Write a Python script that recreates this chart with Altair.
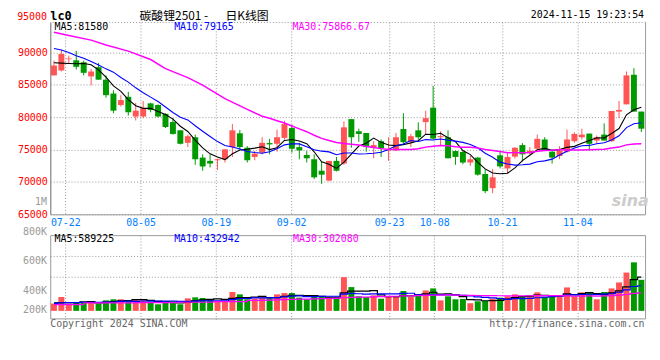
import json
import altair as alt
import pandas as pd

# ---------------- data ----------------
dates = ["07-22", "08-05", "08-19", "09-02", "09-23", "10-08", "10-21", "11-04"]
date_index = [2, 12, 22, 32, 45, 51, 60, 70]

opens = [86450, 87210, 88950, 88780, 88480, 86300, 87720, 85790, 83650, 81880,
         83150, 80100, 80100, 82130, 81880, 80510, 79240, 77970, 76040, 76900,
         73760, 73250, 73350, 73500, 75380, 77510, 75280, 73860, 74520, 76000,
         75890, 76800, 78320, 75380, 74160, 73500, 71730, 70200, 73250, 72840,
         79700, 77820, 77560, 75380, 76290, 74820, 74870, 78170, 76190, 77970,
         79240, 81470, 76900, 76900, 74770, 74620, 73000, 73760, 71220, 69040,
         74110, 72080, 73910, 75690, 74420, 75130, 76550, 74670, 74010, 74670,
         76290, 76900, 77460, 76390, 77310, 76290, 80860, 81980, 86550, 80860]
highs = [88730, 90400, 89500, 90250, 88730, 87460, 88380, 86450, 84160, 83400,
         83900, 82230, 82490, 82230, 81980, 80600, 79850, 77970, 77310, 77310,
         74260, 74260, 73600, 75030, 78930, 78020, 75530, 74770, 76900, 76650,
         78070, 79440, 78830, 76040, 74770, 74260, 73150, 73250, 73860, 79340,
         79700, 78220, 77560, 76290, 76550, 76900, 77560, 80610, 77410, 79190,
         81010, 84820, 77820, 77970, 74870, 74770, 74010, 73860, 71980, 71980,
         74620, 74620, 75380, 76000, 75380, 77310, 76900, 75030, 75530, 78070,
         77660, 78220, 77460, 77160, 79040, 80960, 82490, 87060, 87560, 80860]
lows = [86450, 87050, 88220, 87360, 86450, 84920, 85790, 83000, 80600, 81620,
        80250, 79490, 79850, 80760, 79950, 78320, 77310, 75790, 75380, 72640,
        71730, 72230, 71850, 73000, 73860, 75030, 73000, 73350, 74260, 74260,
        74670, 76550, 74520, 73500, 73000, 70460, 69700, 70100, 71620, 72640,
        75280, 76190, 74670, 73650, 73860, 73250, 74770, 75890, 75380, 76550,
        77410, 76550, 75530, 73650, 72640, 72740, 72490, 70970, 68270, 68270,
        72080, 71320, 73600, 73150, 74260, 75030, 74770, 72840, 73500, 74520,
        76040, 76550, 74870, 75890, 76390, 76190, 79850, 81980, 80860, 77720]
closes = [87970, 89750, 89050, 87770, 86850, 87050, 85790, 83400, 81010, 82640,
          80760, 81010, 81370, 81120, 80100, 78480, 77410, 75890, 77060, 73500,
          72390, 72840, 73500, 75030, 77970, 75380, 73350, 74370, 76040, 75800,
          76900, 78930, 75130, 74870, 73650, 70710, 71120, 73250, 71730, 78430,
          76900, 77410, 75380, 75690, 75180, 74870, 76900, 76140, 77060, 76900,
          79850, 76700, 77060, 73650, 73860, 73000, 73500, 71120, 68580, 70710,
          72390, 73860, 75280, 74260, 74820, 76650, 74870, 73760, 74870, 76550,
          77410, 77310, 75890, 76900, 76390, 80960, 81120, 86450, 80860, 78220]
volumes = [127000, 242000, 127000, 150000, 138000, 150000, 127000, 184000, 202000, 202000,
           184000, 202000, 184000, 144000, 115000, 144000, 167000, 115000, 219000, 236000,
           225000, 202000, 173000, 167000, 329000, 288000, 202000, 213000, 236000, 219000,
           288000, 311000, 311000, 231000, 202000, 271000, 254000, 231000, 231000, 588000,
           415000, 254000, 242000, 271000, 213000, 254000, 254000, 346000, 242000, 288000,
           357000, 392000, 184000, 254000, 202000, 208000, 133000, 167000, 173000, 213000,
           231000, 254000, 288000, 254000, 254000, 323000, 242000, 242000, 271000, 409000,
           254000, 323000, 329000, 202000, 329000, 392000, 496000, 669000, 847000, 542000]

price_ticks = [65000, 70000, 75000, 80000, 85000, 90000]

# moving-average values left of the first full window
ma5_head = [88400, 88350, 88300, 88250]
ma10_head = [90610, 90360, 90000, 89490, 89090, 88580, 88070, 87460, 86950]
ma30_head_index = [0, 2, 5, 7, 10, 13, 15, 18, 20, 23, 26, 28]
ma30_head = [93100, 92600, 91900, 91150, 90200, 88900, 87500, 86100, 84950, 82850, 81200, 80150]

vol_ma5_head = [140000, 145000, 145000, 145000]
vol_ma10_head = [130000, 140000, 145000, 145000, 148000, 148000, 150000, 152000, 155000]
vol_ma30_head_index = [0, 8, 14, 19, 24, 28]
vol_ma30_head = [110000, 138000, 144000, 150000, 161000, 184000]

legend_price = ["MA5:81580", "MA10:79165", "MA30:75866.67"]
legend_vol = ["MA5:589225", "MA10:432942", "MA30:302080"]
vol_axis_labels = ["1M", "800K", "600K", "400K", "200K"]
vol_axis_levels = [1000000, 800000, 600000, 400000, 200000]

# ---------------- styling ----------------
MONO = "DejaVu Sans Mono"
CJK = "Noto Sans CJK SC"
RED = "#ff5555"
GREEN = "#009900"
GRID = "#999999"
FRAME = "#999999"
MA_COLORS = ["#000000", "#0000ff", "#ff00ff"]

n = len(closes)
df = pd.DataFrame({"i": range(n), "open": opens, "high": highs, "low": lows,
                   "close": closes, "vol": volumes})
df["x"] = df["i"] + 0.5
df["dir"] = ["up" if c >= o else "down" for o, c in zip(opens, closes)]


def moving_average(values, window, head_values, head_index=None):
    s = pd.Series(values, dtype=float).rolling(window).mean()
    if head_index is None:
        head_index = list(range(len(head_values)))
    head = pd.DataFrame({"x": [k + 0.5 for k in head_index], "val": head_values})
    body = pd.DataFrame({"x": [k + 0.5 for k in range(window - 1, n)],
                         "val": s.iloc[window - 1:].values})
    return pd.concat([head, body], ignore_index=True)


ma_price = [moving_average(closes, 5, ma5_head),
            moving_average(closes, 10, ma10_head),
            moving_average(closes, 30, ma30_head, ma30_head_index)]
ma_vol = [moving_average(volumes, 5, vol_ma5_head),
          moving_average(volumes, 10, vol_ma10_head),
          moving_average(volumes, 30, vol_ma30_head, vol_ma30_head_index)]

X_SCALE = alt.Scale(domain=[0, n], nice=False, zero=False, padding=0)
grid_x = [k * n / (n - 1) for k in date_index]
label_expr = (f"{json.dumps(dates)}[indexof({json.dumps(date_index)}, "
              f"round(datum.value * {n - 1} / {n}))]")

x_price = alt.X("x:Q", scale=X_SCALE, title=None,
                axis=alt.Axis(values=grid_x, labelExpr=label_expr, grid=True,
                              gridColor=GRID, gridDash=[1, 2], ticks=False,
                              domainColor=FRAME, labelColor="#0080ff", labelFont=MONO,
                              labelFontSize=10, labelPadding=3, labelFlush=False,
                              labelOverlap=False, title=None))
x_vol = alt.X("x:Q", scale=X_SCALE, title=None,
              axis=alt.Axis(values=grid_x, labels=False, grid=True, gridColor=GRID,
                            gridDash=[1, 2], ticks=True, tickSize=3, tickColor=GRID,
                            tickDash=[1, 2], domain=False, title=None))

color_enc = alt.Color("dir:N", scale=alt.Scale(domain=["up", "down"], range=[RED, GREEN]),
                      legend=None)

P_DOMAIN = [65000, 94700]
P_SCALE = alt.Scale(domain=P_DOMAIN, nice=False, zero=False)


def text_layer(text, x, y, color="#000000", size=10, font=MONO, align="left",
               weight="normal", style="normal"):
    return alt.Chart(pd.DataFrame({"t": [text]})).mark_text(
        align=align, baseline="middle", font=font, fontSize=size,
        fontWeight=weight, fontStyle=style, color=color
    ).encode(x=alt.value(x), y=alt.value(y), text="t:N")


# ---------------- price panel ----------------
wicks = alt.Chart(df).mark_rule(strokeWidth=1).encode(
    x=x_price,
    y=alt.Y("low:Q", scale=P_SCALE, title=None,
            axis=alt.Axis(values=price_ticks, format="d", grid=True, gridColor=GRID,
                          gridDash=[1, 2], ticks=False, domainColor=FRAME, domainWidth=1.5,
                          labelColor="#ff0000", labelFont=MONO, labelFontSize=10,
                          labelPadding=3, title=None)),
    y2="high:Q",
    color=color_enc,
)
bodies = alt.Chart(df).mark_bar(size=6).encode(
    x=x_price,
    y=alt.Y("open:Q", scale=P_SCALE, axis=None),
    y2="close:Q",
    color=color_enc,
)
price_lines = []
for k, (mdf, col) in enumerate(zip(ma_price, MA_COLORS)):
    if k == 0:
        yaxis = alt.Axis(orient="right", values=[P_DOMAIN[1]], grid=True, gridColor=GRID,
                         gridDash=[1, 2], labels=False, ticks=False, domainColor=FRAME,
                         minExtent=0, title=None)
    else:
        yaxis = None
    price_lines.append(
        alt.Chart(mdf).mark_line(color=col, strokeWidth=1.5 if k == 2 else 1.1).encode(
            x=x_price, y=alt.Y("val:Q", scale=P_SCALE, axis=yaxis, title=None))
    )

price_texts = [
    text_layer("lc0", 0, -6.3, size=12, weight="bold"),
    text_layer("碳酸锂2501 -", 90, -6, size=12, font=CJK),
    text_layer("日K线图", 176.7, -6, size=12, font=CJK),
    text_layer("2024-11-15 19:23:54", 599, -6.8, align="right"),
    text_layer("95000", -3.3, -5, color="#ff0000", align="right"),
    text_layer(legend_price[0], 4.3, 4.9, color=MA_COLORS[0]),
    text_layer(legend_price[1], 125, 4.9, color=MA_COLORS[1]),
    text_layer(legend_price[2], 244.3, 4.9, color=MA_COLORS[2]),
    text_layer("sina", 585, 181, color="#cccccc", size=16, weight="bold", style="italic",
               font="DejaVu Sans", align="center"),
]

price = alt.layer(wicks, bodies, *price_lines, *price_texts).resolve_axis(
    y="independent"
).properties(width=600, height=194, view=alt.ViewBackground(stroke="transparent"))

# ---------------- volume panel ----------------
V_DOMAIN = [-131500, 1321800]
V_SCALE = alt.Scale(domain=V_DOMAIN, nice=False, zero=False)
v_grid = [V_DOMAIN[1] - (V_DOMAIN[1] - V_DOMAIN[0]) * q / 4 for q in (1, 2)]

vbars = alt.Chart(df).mark_bar(size=6).encode(
    x=x_vol,
    y=alt.Y("vol:Q", scale=V_SCALE, title=None,
            axis=alt.Axis(values=v_grid, grid=True, gridColor=GRID, gridDash=[1, 2],
                          labels=False, ticks=False, domain=False, minExtent=0, title=None)),
    y2=alt.datum(0),
    color=color_enc,
)
vol_lines = []
for k, (mdf, col) in enumerate(zip(ma_vol, MA_COLORS)):
    vol_lines.append(
        alt.Chart(mdf).mark_line(color=col, strokeWidth=1.2, interpolate="step").encode(
            x=x_vol, y=alt.Y("val:Q", scale=V_SCALE, axis=None, title=None))
    )

vol_labels = alt.Chart(pd.DataFrame({"label": vol_axis_labels, "level": vol_axis_levels})).mark_text(
    align="right", baseline="middle", font=MONO, fontSize=10, color="#999999"
).encode(
    x=alt.value(-3.3),
    y=alt.Y("level:Q", scale=alt.Scale(domain=[271333, 1000000], range=[75.7, -33.6],
                                       clamp=True, nice=False, zero=False), axis=None),
    text="label:N",
)

vol_texts = [
    text_layer(legend_vol[0], 4.3, 4, color=MA_COLORS[0]),
    text_layer(legend_vol[1], 125, 4, color=MA_COLORS[1]),
    text_layer(legend_vol[2], 245, 4, color=MA_COLORS[2]),
    text_layer("Copyright 2024 SINA.COM", 0, 89.5, color="#666666"),
    text_layer("http://finance.sina.com.cn", 599.3, 89.5, color="#666666", align="right"),
]

volume = alt.layer(vbars, *vol_lines, vol_labels, *vol_texts).resolve_scale(
    y="independent"
).properties(width=600, height=84,
             view=alt.ViewBackground(stroke=FRAME, strokeWidth=1))

chart = alt.vconcat(price, volume, spacing=21, bounds="flush").properties(
    padding={"left": 8.6, "top": -0.3, "right": 2, "bottom": 2},
    background="white",
).configure_view(stroke="transparent")

chart.save("out.html", embed_options={"renderer": "svg", "actions": False})
